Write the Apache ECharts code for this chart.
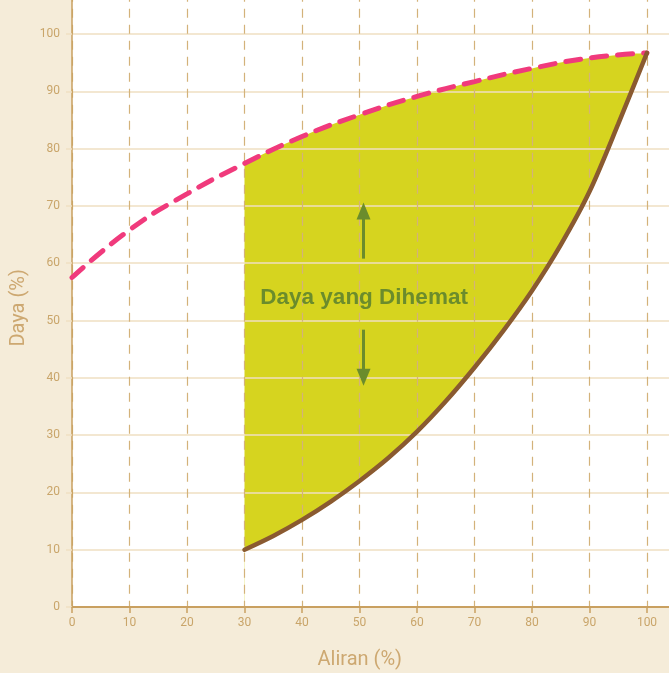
<!DOCTYPE html>
<html><head><meta charset="utf-8">
<script src="https://cdn.jsdelivr.net/npm/echarts@6/dist/echarts.min.js"></script>
<style>html,body{margin:0;padding:0;background:#f5ecd9}#c{width:669px;height:673px}</style>
</head><body><div id="c"></div>
<script>
var curveX = [0, 10, 20, 30, 40, 50, 60, 70, 80, 90, 100];
var dayaFan = [57.5, 65.8, 72.1, 77.4, 82.1, 85.9, 89.1, 91.7, 94.0, 95.8, 96.7];
var fanX = [30, 35, 40, 45, 50, 55, 60, 65, 70, 75, 80, 85, 90, 95, 100];
var dayaKatup = [10, 12.4, 15.2, 18.4, 22, 26, 30.6, 35.9, 41.8, 48.2, 55.2, 63.2, 72.5, 84.3, 96.7];
var xTicks = [0, 10, 20, 30, 40, 50, 60, 70, 80, 90, 100];
var yTicks = [0, 10, 20, 30, 40, 50, 60, 70, 80, 90, 100];
var labelText = 'Daya yang Dihemat';
var arrowUp = [[50.7, 60.8], [50.7, 69.1]];
var arrowDown = [[50.7, 48.4], [50.7, 40.1]];
var labelPos = [50.8, 54.0];

var pinkPairs = curveX.map(function (x, i) { return [x, dayaFan[i]]; });
var brownPairs = fanX.map(function (x, i) { return [x, dayaKatup[i]]; });
var pinkFillPairs = curveX.filter(function (x) { return x >= fanX[0]; })
  .map(function (x) { return [x, dayaFan[curveX.indexOf(x)]]; });

var tan = '#c9a56a';
var chart = echarts.init(document.getElementById('c'));
chart.setOption({
  backgroundColor: '#f5ecd9',
  animation: false,
  grid: { left: 72, right: -35.5, top: -23.3, bottom: 66, show: true, backgroundColor: '#ffffff', borderWidth: 0, outerBoundsMode: 'none', containLabel: false },
  xAxis: {
    type: 'value', min: 0, max: 110, interval: 10, z: 2,
    name: 'Aliran (%)', nameLocation: 'middle', nameGap: 43,
    nameTextStyle: { color: '#cda871', fontSize: 20, fontFamily: 'Roboto', padding: [0, 57, 0, 0] },
    axisLine: { show: true, lineStyle: { color: '#c9a060', width: 2 } },
    axisTick: { show: true, length: 6, lineStyle: { color: '#c9a060', width: 1.5 } },
    axisLabel: { color: tan, fontSize: 12, fontFamily: 'Roboto', margin: 10,
      formatter: function (v) { return xTicks.indexOf(v) >= 0 ? String(v) : ''; } },
    splitLine: { show: true, lineStyle: { color: '#d3b27a', type: [9, 7], width: 1.2 } }
  },
  yAxis: {
    type: 'value', min: 0, max: 110, interval: 10, z: 2,
    name: 'Daya (%)', nameLocation: 'middle', nameGap: 30, nameRotate: 90,
    nameTextStyle: { color: '#cda871', fontSize: 20, fontFamily: 'Roboto', padding: [10, 32, 0, 0] },
    axisLine: { show: true, lineStyle: { color: '#c9a060', width: 1.5 } },
    axisTick: { show: true, length: 6, lineStyle: { color: '#efdfc2', width: 1.5 } },
    axisLabel: { color: tan, fontSize: 12, fontFamily: 'Roboto', margin: 12,
      formatter: function (v) { return yTicks.indexOf(v) >= 0 ? String(v) : ''; } },
    splitLine: { show: true, lineStyle: { color: '#efdfc2', width: 1.5 } }
  },
  series: [
    { type: 'line', data: pinkFillPairs, smooth: true, symbol: 'none', z: 1,
      lineStyle: { width: 0, opacity: 0 }, areaStyle: { color: '#d6d41f', opacity: 1, origin: 'start' }, silent: true },
    { type: 'line', data: brownPairs, smooth: 0.3, symbol: 'none', z: 1,
      lineStyle: { width: 0, opacity: 0 }, areaStyle: { color: '#ffffff', opacity: 1, origin: 'start' }, silent: true },
    { type: 'line', data: pinkPairs, smooth: true, symbol: 'none', z: 3,
      lineStyle: { color: '#f03a7c', width: 5, type: [15, 11], cap: 'round' } },
    { type: 'line', data: brownPairs, smooth: 0.3, symbol: 'none', z: 3,
      lineStyle: { color: '#8a5a30', width: 4.5, cap: 'round' },
      markLine: {
        silent: true, symbol: ['none', 'triangle'], symbolSize: [14, 17],
        lineStyle: { color: '#6b8c2c', width: 3, type: 'solid' },
        label: { show: false },
        data: [
          [{ coord: arrowUp[0] }, { coord: arrowUp[1] }],
          [{ coord: arrowDown[0] }, { coord: arrowDown[1] }]
        ]
      },
      markPoint: {
        silent: true, symbol: 'rect', symbolSize: 1, itemStyle: { color: 'transparent' },
        label: { show: true, position: 'inside', color: '#6b8c2c', fontSize: 22.5, fontWeight: 'bold', fontFamily: 'Liberation Sans', formatter: labelText },
        data: [{ coord: labelPos }]
      }
    }
  ]
});
</script></body></html>
